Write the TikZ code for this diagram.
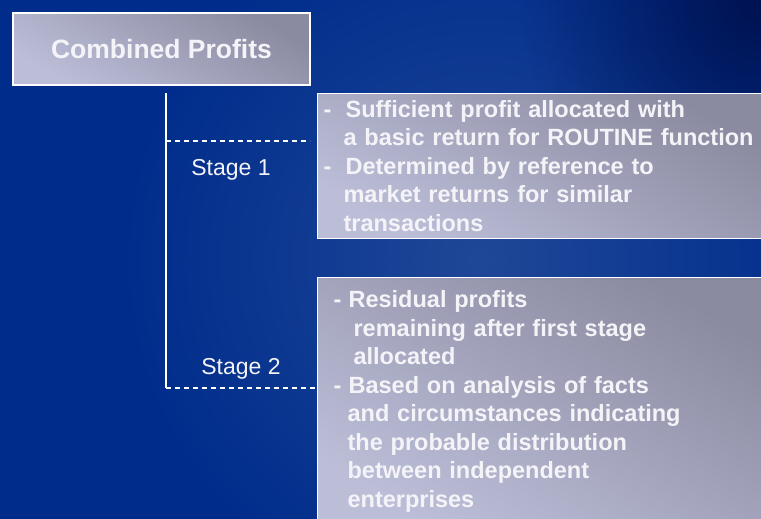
\documentclass[tikz,border=0pt]{standalone}
\usepackage{fontspec}
\setmainfont{Liberation Sans}
\usepackage{tikz}
\usetikzlibrary{positioning,fadings}
\definecolor{bgbase}{RGB}{0,45,140}
\definecolor{bglight}{RGB}{32,72,152}
\definecolor{bgcorner}{RGB}{0,18,80}
\definecolor{boxlight}{RGB}{188,190,216}
\definecolor{boxdark}{RGB}{138,138,160}
\definecolor{txtwhite}{RGB}{244,244,248}
\tikzfading[name=softspot, inner color=transparent!0, outer color=transparent!100]
\tikzstyle{panel}=[draw=white, line width=1.2pt, shading=axis, top color=boxlight, bottom color=boxdark, shading angle=150, text=txtwhite, font=\bfseries\fontsize{23.5}{28.5}\selectfont, align=left, anchor=north west, inner ysep=0pt]
\tikzstyle{stagelabel}=[text=txtwhite, font=\fontsize{23}{26}\selectfont, inner sep=0pt]
\tikzstyle{branch}=[white, line width=1.2pt, dash pattern=on 5pt off 4pt]

\begin{document}
\begin{tikzpicture}[x=1pt,y=-1pt]
		\useasboundingbox (0,0) rectangle (761,519);
		\fill[bgbase] (0,0) rectangle (761,519);
		\fill[bglight, path fading=softspot] (480,260) circle (360);
		\fill[bgcorner, path fading=softspot] (761,0) circle (240);
		\node[panel, anchor=center, minimum width=297pt, minimum height=72pt, font=\bfseries\fontsize{26.5}{30}\selectfont, inner sep=0pt] (combined) at (161.5,49) {Combined Profits};
		\node[panel, minimum width=449pt, minimum height=145pt, inner xsep=6pt, text width=437pt] (stageone) at (317,93) {\makebox[22pt][l]{-}Sufficient profit allocated with\\
			\hspace*{20pt}a basic return for ROUTINE function\\
			\makebox[22pt][l]{-}Determined by reference to\\
			\hspace*{20pt}market returns for similar\\
			\hspace*{20pt}transactions};
		\node[panel, minimum width=449pt, minimum height=248pt, inner xsep=16pt, text width=417pt] (stagetwo) at (317,277) {\makebox[15pt][l]{-}Residual profits\\
			\hspace*{20pt}remaining after first stage\\
			\hspace*{20pt}allocated\\
			\makebox[15pt][l]{-}Based on analysis of facts\\
			\hspace*{14pt}and circumstances indicating\\
			\hspace*{14pt}the probable distribution\\
			\hspace*{14pt}between independent\\
			\hspace*{14pt}enterprises};
		\coordinate (trunktop) at (166,93);
		\coordinate (trunkbot) at (166,388);
		\coordinate (forkone) at (166,141);
		\coordinate (tickone) at (310,141);
		\draw[white, line width=1.5pt] (trunktop) -- (trunkbot);
		\draw[branch] (forkone) -- (tickone);
		\draw[branch] (trunkbot) -- (trunkbot -| stagetwo.west);
		\node[stagelabel] (labelone) at (231,170) {Stage 1};
		\node[stagelabel] (labeltwo) at (241,369) {Stage 2};
	\end{tikzpicture}
\end{document}
